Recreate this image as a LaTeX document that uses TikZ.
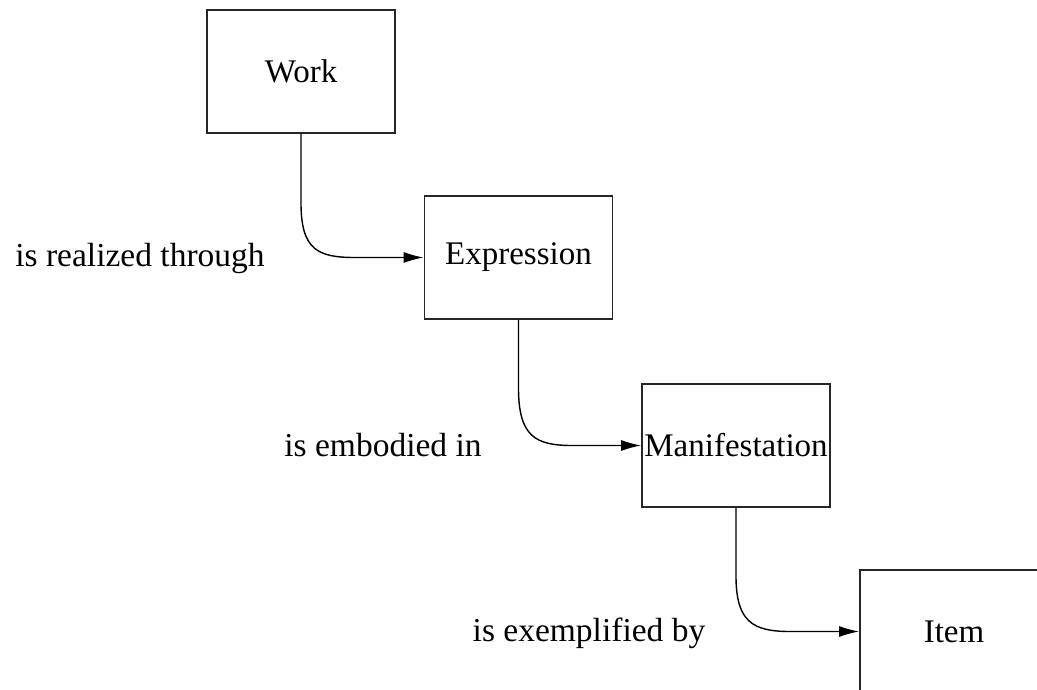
\documentclass[tikz,border=0pt]{standalone}
\usepackage{fontspec}
\setmainfont{Liberation Serif}
\usetikzlibrary{arrows.meta}
\begin{document}
\begin{tikzpicture}[x=1bp,y=-1bp,
  entity/.style={draw=black!85,line width=1.8bp,rectangle,minimum width=188bp,minimum height=123bp,inner sep=0pt,font=\fontsize{33bp}{36bp}\selectfont},
  rel/.style={inner sep=0pt,font=\fontsize{33.5bp}{36bp}\selectfont},
  conn/.style={draw=black,line width=1.4bp,-{Latex[length=20bp,width=11bp]}}]
\useasboundingbox (0,0) rectangle (1037,690);
\clip (0,0) rectangle (1037,690);
\fill[white] (0,0) rectangle (1037,690);
\node[entity] (work) at (301,71.5) {Work};
\node[entity] (expr) at (518.5,257.5) {Expression};
\node[entity] (mani) at (736,445.5) {Manifestation};
\node[entity] (item) at (954,631.5) {Item};
\node[rel] (l1) at (140,258) {is realized through};
\node[rel] (l2) at (383,445) {is embodied in};
\node[rel] (l3) at (589,633) {is exemplified by};
\coordinate (b1) at (301,203);
\coordinate (b2) at (518.5,388);
\coordinate (b3) at (736,576);
\draw[conn] (work.south) -- (b1) .. controls (301,250) and (318,257.5) .. (355,257.5) -- (expr.west);
\draw[conn] (expr.south) -- (b2) .. controls (518.5,436) and (535,445.5) .. (572,445.5) -- (mani.west);
\draw[conn] (mani.south) -- (b3) .. controls (736,622) and (753,631.5) .. (790,631.5) -- (item.west);
\end{tikzpicture}
\end{document}
